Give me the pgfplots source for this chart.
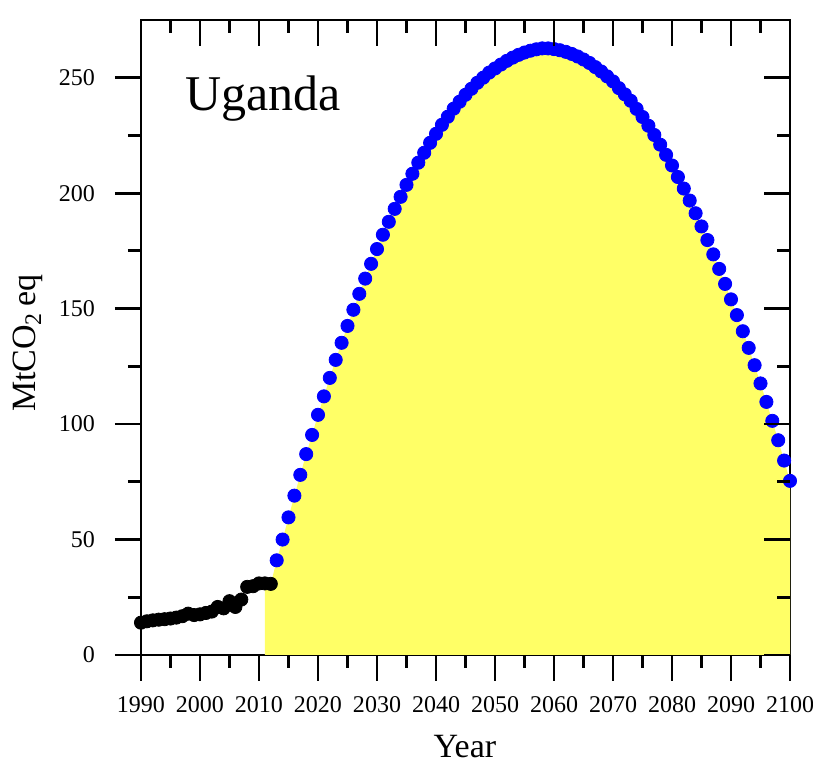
\documentclass[border=0pt]{standalone}
\usepackage{fontspec}
\setmainfont{Liberation Serif}
\usepackage{pgfplots}
\usepackage{pgfplotstable}
\pgfplotsset{compat=1.18}
\definecolor{fillyellow}{RGB}{255,255,102}
\definecolor{dotblue}{RGB}{0,0,255}

\pgfplotstableread{
year val
1990 14.0
1991 14.6
1992 15.0
1993 15.3
1994 15.5
1995 15.8
1996 16.2
1997 16.8
1998 17.9
1999 17.3
2000 17.6
2001 18.2
2002 18.8
2003 20.8
2004 20.2
2005 23.3
2006 20.8
2007 24.0
2008 29.5
2009 29.8
2010 31.0
2011 31.0
2012 30.8
}\histdata

\pgfplotstableread{
year val
2013 41.0
2014 50.0
2015 59.6
2016 69.0
2017 78.0
2018 87.0
2019 95.3
2020 104.0
2021 112.0
2022 120.0
2023 127.8
2024 135.2
2025 142.5
2026 149.5
2027 156.4
2028 163.0
2029 169.4
2030 175.8
2031 182.0
2032 187.6
2033 193.2
2034 198.4
2035 203.6
2036 208.4
2037 213.2
2038 217.5
2039 221.8
2040 225.7
2041 229.6
2042 233.1
2043 236.6
2044 239.6
2045 242.6
2046 245.2
2047 247.8
2048 250.0
2049 252.2
2050 254.0
2051 255.7
2052 257.3
2053 258.7
2054 259.9
2055 260.9
2056 261.7
2057 262.3
2058 262.7
2059 262.7
2060 262.4
2061 261.9
2062 261.2
2063 260.3
2064 259.2
2065 257.9
2066 256.4
2067 254.6
2068 252.7
2069 250.6
2070 248.4
2071 245.5
2072 242.8
2073 240.0
2074 236.5
2075 233.0
2076 229.2
2077 225.2
2078 221.0
2079 216.6
2080 212.0
2081 207.0
2082 202.0
2083 196.8
2084 191.3
2085 185.6
2086 179.7
2087 173.5
2088 167.2
2089 160.7
2090 154.0
2091 147.2
2092 140.2
2093 133.0
2094 125.5
2095 117.6
2096 109.6
2097 101.4
2098 93.0
2099 84.2
2100 75.4
}\projdata

\begin{document}
\begin{tikzpicture}
\pgfplotsset{
  common/.style={
    scale only axis,
    width=324.5pt, height=317.5pt,
    xmin=1990, xmax=2100, ymin=0, ymax=275,
    xtick={1990,2000,...,2100},
    ytick={0,50,...,250},
    minor x tick num=1, minor y tick num=1,
    major tick length=13pt, minor tick length=6.5pt,
    tick style={line width=1.4pt, black},
    /pgf/number format/assume math mode=true,
    /pgf/number format/set thousands separator={},
    tick label style={font=\fontsize{12}{14}\selectfont},
  }
}
\begin{axis}[common, name=ax,
    clip=false,
    axis line style={line width=1.4pt},
    tick align=outside,
    xtick pos=left, ytick pos=left,
    xticklabel style={anchor=base, yshift=-16pt},
    yticklabel style={anchor=east, xshift=-6.5pt},
    xlabel={Year},
    ylabel={MtCO\textsubscript{2}\,eq},
    xlabel style={font=\fontsize{17}{20}\selectfont, inner sep=0pt, at={(axis description cs:0.499,-0.162)}, anchor=base},
    ylabel style={font=\fontsize{17}{20}\selectfont, at={(axis description cs:-0.162,0.491)}, anchor=base},
]
\addplot[fill=fillyellow, draw=none] table[x=year,y=val] {
year val
2011 31.0
2012 30.8
2013 41.0
2014 50.0
2015 59.6
2016 69.0
2017 78.0
2018 87.0
2019 95.3
2020 104.0
2021 112.0
2022 120.0
2023 127.8
2024 135.2
2025 142.5
2026 149.5
2027 156.4
2028 163.0
2029 169.4
2030 175.8
2031 182.0
2032 187.6
2033 193.2
2034 198.4
2035 203.6
2036 208.4
2037 213.2
2038 217.5
2039 221.8
2040 225.7
2041 229.6
2042 233.1
2043 236.6
2044 239.6
2045 242.6
2046 245.2
2047 247.8
2048 250.0
2049 252.2
2050 254.0
2051 255.7
2052 257.3
2053 258.7
2054 259.9
2055 260.9
2056 261.7
2057 262.3
2058 262.7
2059 262.7
2060 262.4
2061 261.9
2062 261.2
2063 260.3
2064 259.2
2065 257.9
2066 256.4
2067 254.6
2068 252.7
2069 250.6
2070 248.4
2071 245.5
2072 242.8
2073 240.0
2074 236.5
2075 233.0
2076 229.2
2077 225.2
2078 221.0
2079 216.6
2080 212.0
2081 207.0
2082 202.0
2083 196.8
2084 191.3
2085 185.6
2086 179.7
2087 173.5
2088 167.2
2089 160.7
2090 154.0
2091 147.2
2092 140.2
2093 133.0
2094 125.5
2095 117.6
2096 109.6
2097 101.4
2098 93.0
2099 84.2
2100 75.4
} \closedcycle;
\addplot[only marks, mark=*, mark size=3.3pt, black] table[x=year,y=val] {\histdata};
\addplot[only marks, mark=*, mark size=3.3pt, dotblue, mark options={draw=dotblue, fill=dotblue}] table[x=year,y=val] {\projdata};
\node[anchor=base west, font=\fontsize{25}{29}\selectfont, inner sep=0pt] at (axis cs:1997.4,236) {Uganda};
\end{axis}
\begin{axis}[common,
    axis line style={draw=none},
    tick align=inside,
    xtick pos=right, ytick pos=right,
    xticklabels={}, yticklabels={},
]
\end{axis}
\pgfresetboundingbox
\path ([xshift=-70.5pt,yshift=-54pt]ax.south west) rectangle ([xshift=336pt,yshift=327.5pt]ax.south west);
\end{tikzpicture}
\end{document}
